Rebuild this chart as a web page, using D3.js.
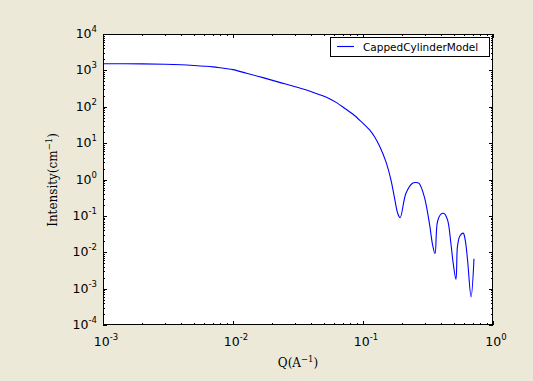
<!DOCTYPE html>
<html>
<head>
<meta charset="utf-8">
<script src="https://cdn.jsdelivr.net/npm/d3@7"></script>
<style>
  html, body { margin: 0; padding: 0; background: #ece9d8; }
  svg { display: block; }
</style>
</head>
<body>
<svg id="chart" width="533" height="381"></svg>
<script>
// Data
const seriesName = "CappedCylinderModel";
const qValues = [0.001, 0.002, 0.003, 0.004, 0.005, 0.006, 0.007, 0.008, 0.009, 0.01, 0.0127, 0.017, 0.0228,
  0.0307, 0.0411, 0.049, 0.0552, 0.0635, 0.0741, 0.0834, 0.095,
  0.112, 0.123, 0.134, 0.150, 0.164, 0.174, 0.185, 0.193, 0.214, 0.240, 0.256, 0.270, 0.296, 0.324, 0.343, 0.358,
  0.374, 0.398, 0.420, 0.447, 0.474, 0.494, 0.519, 0.533, 0.556, 0.590, 0.611, 0.637, 0.678, 0.714];
const intensityValues = [1520, 1507, 1479, 1429, 1365, 1303, 1245, 1175, 1109, 1047, 832, 631, 468,
  347, 251, 200, 166, 126, 85, 63, 41.7,
  23.4, 14.8, 8.3, 3.1, 0.98, 0.34, 0.117, 0.089, 0.417, 0.79, 0.83, 0.78, 0.34, 0.063, 0.016, 0.0091,
  0.069, 0.112, 0.117, 0.078, 0.018, 0.005, 0.0018, 0.0145, 0.028, 0.0335, 0.022, 0.0062, 0.00059, 0.0066];
const xTickExps = [-3, -2, -1, 0];
const yTickExps = [-4, -3, -2, -1, 0, 1, 2, 3, 4];

const svg = d3.select("#chart");
const L = 103, R = 493, T = 34, B = 325;

const x = d3.scaleLog().domain([1e-3, 1]).range([L, R]);
const y = d3.scaleLog().domain([1e-4, 1e4]).range([B, T]);

svg.append("rect").attr("x", L).attr("y", T).attr("width", R - L).attr("height", B - T).attr("fill", "#ffffff");

// minor tick values
function minors(lo, hi) {
  const out = [];
  for (let e = lo; e < hi; e++) for (let m = 2; m <= 9; m++) out.push(m * Math.pow(10, e));
  return out;
}
const xMinor = minors(-3, 0);
const yMinor = minors(-4, 4);

const tickG = svg.append("g").attr("stroke", "#000").attr("stroke-width", 1).attr("shape-rendering", "crispEdges");
xTickExps.forEach(e => {
  const px = Math.round(x(Math.pow(10, e))) + 0.5;
  tickG.append("line").attr("x1", px).attr("x2", px).attr("y1", B).attr("y2", B - 4);
  tickG.append("line").attr("x1", px).attr("x2", px).attr("y1", T).attr("y2", T + 4);
});
xMinor.forEach(v => {
  const px = Math.round(x(v)) + 0.5;
  tickG.append("line").attr("x1", px).attr("x2", px).attr("y1", B).attr("y2", B - 2);
  tickG.append("line").attr("x1", px).attr("x2", px).attr("y1", T).attr("y2", T + 2);
});
yTickExps.forEach(e => {
  const py = Math.round(y(Math.pow(10, e))) + 0.5;
  tickG.append("line").attr("x1", L).attr("x2", L + 4).attr("y1", py).attr("y2", py);
  tickG.append("line").attr("x1", R).attr("x2", R - 4).attr("y1", py).attr("y2", py);
});
yMinor.forEach(v => {
  const py = Math.round(y(v)) + 0.5;
  tickG.append("line").attr("x1", L).attr("x2", L + 2).attr("y1", py).attr("y2", py);
  tickG.append("line").attr("x1", R).attr("x2", R - 2).attr("y1", py).attr("y2", py);
});

// tick labels
const font = "DejaVu Sans, sans-serif";
function powLabel(g, e) {
  g.append("tspan").text("10");
  g.append("tspan").attr("dy", -6).attr("font-size", 8.5).text(String(e));
}
xTickExps.forEach(e => {
  const t = svg.append("text").attr("x", x(Math.pow(10, e)) + 3).attr("y", 346)
    .attr("text-anchor", "middle").attr("font-family", font).attr("font-size", 12.5).attr("fill", "#000");
  powLabel(t, e);
});
yTickExps.forEach(e => {
  const t = svg.append("text").attr("x", 97).attr("y", y(Math.pow(10, e)) + 4)
    .attr("text-anchor", "end").attr("font-family", font).attr("font-size", 12.5).attr("fill", "#000");
  powLabel(t, e);
});

// axis labels
const serif = "DejaVu Serif, serif";
const xl = svg.append("text").attr("x", 298).attr("y", 367).attr("text-anchor", "middle")
  .attr("font-family", serif).attr("font-size", 12).attr("fill", "#000");
xl.append("tspan").text("Q(A");
xl.append("tspan").attr("dy", -5).attr("font-size", 8.5).text("\u22121");
xl.append("tspan").attr("dy", 5).text(")");

const yl = svg.append("text").attr("transform", "translate(57,180) rotate(-90)").attr("text-anchor", "middle")
  .attr("font-family", serif).attr("font-size", 12).attr("fill", "#000");
yl.append("tspan").text("Intensity(cm");
yl.append("tspan").attr("dy", -5).attr("font-size", 8.5).text("\u22121");
yl.append("tspan").attr("dy", 5).text(")");

// data line
const data = qValues.map((q, i) => ({ q, v: intensityValues[i] }));
const line = d3.line().x(d => x(d.q)).y(d => y(d.v)).curve(d3.curveCatmullRom.alpha(0.5));
svg.append("path").datum(data).attr("d", line).attr("fill", "none").attr("stroke", "#0000ff").attr("stroke-width", 1.1);

// frame
svg.append("rect").attr("x", L + 0.5).attr("y", T + 0.5).attr("width", R - L - 1).attr("height", B - T - 1)
  .attr("fill", "none").attr("stroke", "#000").attr("stroke-width", 1).attr("shape-rendering", "crispEdges");

// legend
const lg = svg.append("g");
lg.append("rect").attr("x", 330.5).attr("y", 37.5).attr("width", 159).attr("height", 19)
  .attr("fill", "#fff").attr("stroke", "#000").attr("stroke-width", 1).attr("shape-rendering", "crispEdges");
lg.append("line").attr("x1", 337).attr("x2", 354).attr("y1", 46.5).attr("y2", 46.5).attr("stroke", "#0000ff").attr("stroke-width", 1.1);
lg.append("text").attr("x", 363).attr("y", 50.5).attr("font-family", font).attr("font-size", 10.5).attr("fill", "#000").text(seriesName);
</script>
</body>
</html>
